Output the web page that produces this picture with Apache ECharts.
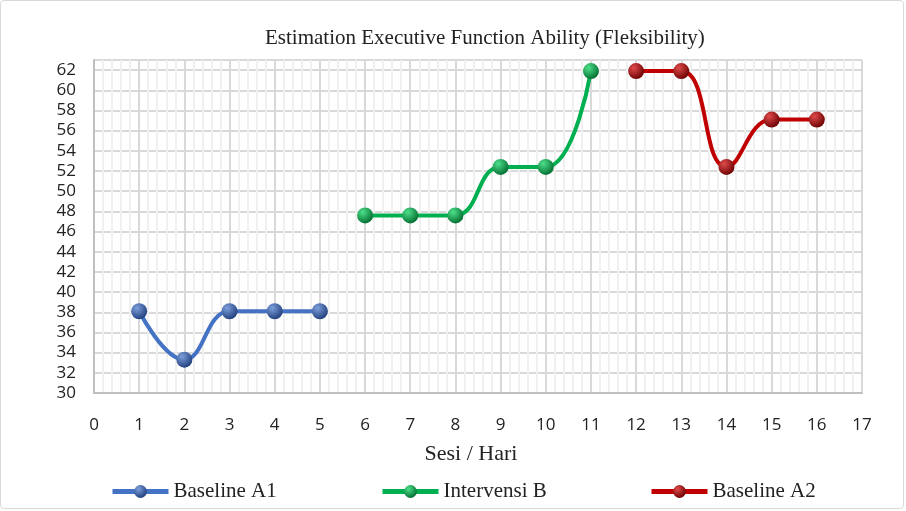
<!DOCTYPE html>
<html>
<head>
<meta charset="utf-8">
<script src="https://cdn.jsdelivr.net/npm/echarts@6/dist/echarts.min.js"></script>
<style>
html,body{margin:0;padding:0;background:#fff;}
#chart{position:absolute;left:0;top:0;width:902px;height:507px;border:1px solid #d9d9d9;border-radius:4px;}
</style>
</head>
<body>
<div id="chart"></div>
<script>
// sesi (hari) per fase
var sesiA1 = [1, 2, 3, 4, 5];
var sesiB = [6, 7, 8, 9, 10, 11];
var sesiA2 = [12, 13, 14, 15, 16];
// nilai per fase
var nilaiA1 = [38.1, 33.3, 38.1, 38.1, 38.1];
var nilaiB = [47.6, 47.6, 47.6, 52.4, 52.4, 61.9];
var nilaiA2 = [61.9, 61.9, 52.4, 57.1, 57.1];
var namaSeri = ["Baseline A1", "Intervensi B", "Baseline A2"];

function pasang(x, y) {
	var out = [];
	for (var i = 0; i < x.length; i++) out.push([x[i], y[i]]);
	return out;
}
function bola(terang, gelap) {
	return new echarts.graphic.RadialGradient(0.35, 0.3, 0.75, [
		{offset: 0, color: terang},
		{offset: 1, color: gelap}
	]);
}
function seri(nama, data, garis, terang, gelap) {
	return {
		name: nama,
		type: 'line',
		smooth: 0.45,
		data: data,
		symbol: 'circle',
		symbolSize: 16,
		lineStyle: {color: garis, width: 4},
		itemStyle: {color: bola(terang, gelap), borderWidth: 0},
		emphasis: {disabled: true}
	};
}

var mychart = echarts.init(document.getElementById('chart'));
var serif = 'Liberation Serif';
var legendBase = {
	top: 480,
	padding: 0,
	itemWidth: 56,
	itemHeight: 16,
	itemGap: 0,
	lineStyle: {width: 5},
	textStyle: {fontFamily: serif, fontSize: 21, color: '#222'}
};
var option = {
	animation: false,
	title: {
		text: 'Estimation Executive Function Ability (Fleksibility)',
		left: 259,
		top: 22,
		textStyle: {fontFamily: serif, fontSize: 21, fontWeight: 'normal', color: '#222'}
	},
	legend: [
		Object.assign({}, legendBase, {left: 109, data: [namaSeri[0]]}),
		Object.assign({}, legendBase, {left: 379, data: [namaSeri[1]]}),
		Object.assign({}, legendBase, {left: 648, data: [namaSeri[2]]})
	],
	grid: {left: 93, right: 41, top: 59, bottom: 115, show: false},
	xAxis: {
		type: 'value',
		min: 0, max: 17, interval: 1,
		name: 'Sesi / Hari',
		nameLocation: 'middle',
		nameGap: 50,
		nameTextStyle: {fontFamily: serif, fontSize: 22, color: '#222', padding: [0, 14, 0, 0]},
		axisLine: {lineStyle: {color: '#bfbfbf', width: 2}},
		axisTick: {show: false},
		axisLabel: {fontFamily: 'Open Sans', fontSize: 17, color: '#222', margin: 24},
		splitLine: {lineStyle: {color: '#d9d9d9', width: 2}},
		minorTick: {show: false, splitNumber: 5},
		minorSplitLine: {show: true, lineStyle: {color: '#f0f0f0', width: 2}}
	},
	yAxis: {
		type: 'value',
		min: 30, max: 63, interval: 2,
		axisLine: {show: true, lineStyle: {color: '#bfbfbf', width: 2}},
		axisTick: {show: false},
		axisLabel: {fontFamily: 'Open Sans', fontSize: 17, color: '#222', margin: 18, showMaxLabel: false},
		splitLine: {lineStyle: {color: '#d9d9d9', width: 2}}
	},
	series: [
		seri(namaSeri[0], pasang(sesiA1, nilaiA1), '#4472c4', '#7c9fdc', '#1f3d7a'),
		seri(namaSeri[1], pasang(sesiB, nilaiB), '#00b050', '#4ee08a', '#006b2e'),
		seri(namaSeri[2], pasang(sesiA2, nilaiA2), '#c00000', '#e04a4a', '#6a0000')
	]
};
mychart.setOption(option);
</script>
</body>
</html>
